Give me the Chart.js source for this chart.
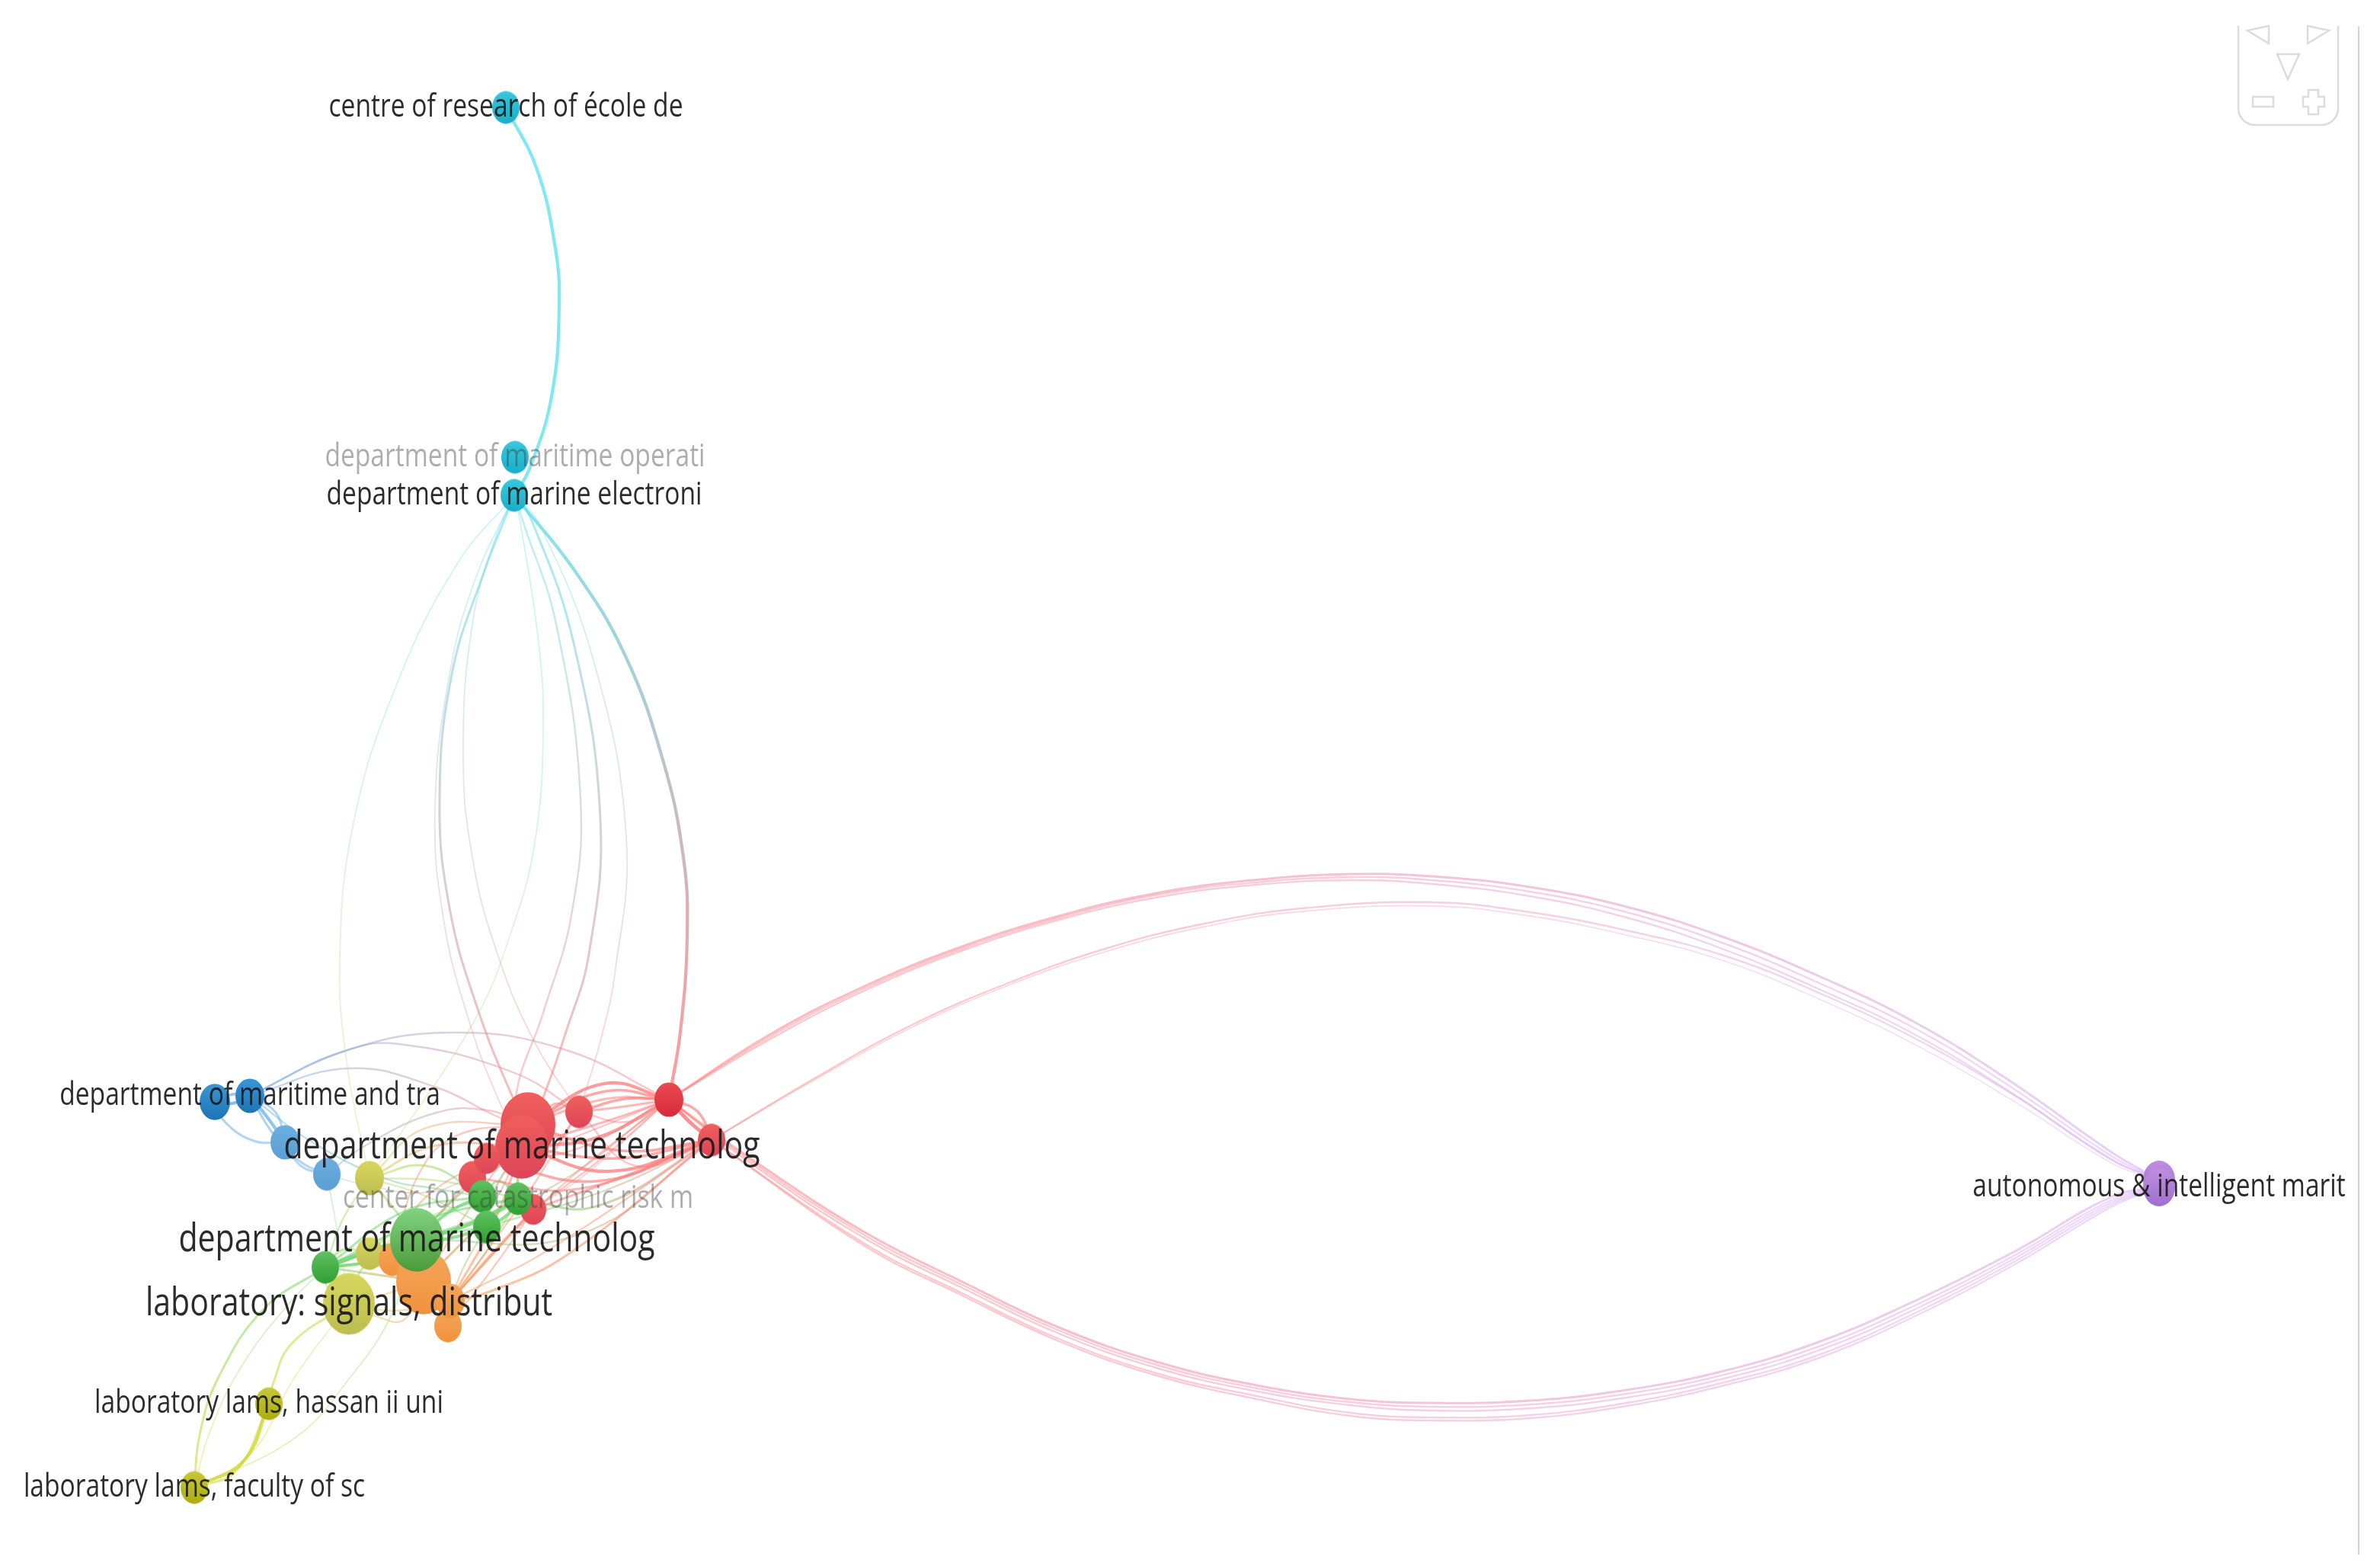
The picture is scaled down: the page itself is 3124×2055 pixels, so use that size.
<!DOCTYPE html>
<html>
<head>
<meta charset="utf-8">
<title>co-authorship map</title>
<script src="https://cdn.jsdelivr.net/npm/chart.js@4"></script>
<style>
html,body{margin:0;padding:0;background:#fff;}
#wrap{position:relative;width:3124px;height:2055px;overflow:hidden;}
#myChart{position:absolute;left:0;top:0;}
#widget{position:absolute;left:0;top:0;}
</style>
</head>
<body>
<div id="wrap">
<canvas id="myChart" width="3124" height="2055"></canvas>
<svg id="widget" width="3124" height="2055" fill="none" stroke="#dcdcdc" stroke-width="2.5">
	<path d="M2938 34V142a22 22 0 0 0 22 22H3047a22 22 0 0 0 22-22V34"/>
	<path d="M2978 34L2950 40L2978 57Z"/>
	<path d="M3029 34L3057 40L3029 57Z"/>
	<path d="M2989 71H3018L3003 104Z"/>
	<rect x="2957" y="127" width="27" height="13"/>
	<path d="M3030 118H3043V127H3051V140H3043V150H3030V140H3023V127H3030Z"/>
	<path d="M3096 34V2040" stroke="#c8d6e4" stroke-width="2"/>
</svg>
</div>
<script>
// nodes : map coordinates
var nodeIds = ['c0','c1','c2','b0','b1','b2','b3','p0','p1','y0','y1','y2','y3','y4','o0','o1','o3','o2','r0','r1','r2','r3','r4','r6','r5','r7','g1','g0','g2','g3','g4'];
var nodeX = [664,676,675,282,328,374,429,2834,2834,485,485,458,353,255,515,556,588,591,693,685,760,878,934,620,639,700,427,547,633,680,639];
var nodeY = [141,600,650,1446,1438,1499,1541,1548,1558,1546,1645,1711,1842,1952,1653,1682,1740,1707,1476,1505,1459,1443,1496,1545,1520,1587,1663,1627,1570,1573,1610];
var nodeWeight = [18,18,18,20,19,19,18,21,21,19,18,34,18,18,18,36,18,19,36,35,18,19,18,18,17,17,18,35,18,18,18];
var nodeCluster = ['cyan','cyan','cyan','blue','blue','sky','sky','purple','purple','olive','olive','olive','mustard','mustard','orange','orange','orange','orange','red','red','red','crimson','red','red','red','red','green','lime','green','green','green'];

// labels
var labelNode = ['c0','c1','c2','b1','r1','g3','g0','y2','y3','y4','p1'];
var labelText = ['centre of research of école de','department of maritime operati','department of marine electroni','department of maritime and tra','department of marine technolog','center for catastrophic risk m','department of marine technolog','laboratory: signals, distribut','laboratory lams, hassan ii uni','laboratory lams, faculty of sc','autonomous & intelligent marit'];
var labelSize = [42.5,42.5,42.5,42.5,52,42.5,52,52,42.5,42.5,42.5];
var labelDim = [0,1,0,0,0,1,0,0,0,0,0];

// links : from, to, strength, points the curve passes through
var cyanLinks = [
	['c0','c2',5,[[704,220],[728,320],[734,400],[724,520],[695,615]]],
	['c2','y0',1,[[600,740],[520,900],[464,1080],[446,1260],[456,1400]]],
	['c2','r1',1,[[625,757],[590,885],[571,1063],[583,1211],[617,1344],[653,1440]]],
	['c2','r0',3,[[633,757],[593,885],[577,1048],[590,1191],[627,1324],[673,1440]]],
	['c2','r2',1,[[650,706],[620,819],[608,987],[620,1125],[653,1252],[703,1370]]],
	['c2','y0',1,[[683,686],[707,844],[713,956],[703,1099],[673,1217],[620,1344]]],
	['c2','r0',2,[[687,686],[730,819],[762,1048],[750,1201],[713,1329],[677,1440]]],
	['c2','r1',3,[[697,681],[753,844],[788,1074],[773,1252],[743,1354],[713,1440]]],
	['c2','r2',1,[[707,686],[780,870],[822,1099],[807,1278],[787,1370]]],
	['c2','r3',5,[[753,747],[820,859],[870,997],[897,1125],[902,1227],[893,1354]]]
];
var blueLinks = [
	['b1','r3',2,[[450,1380],[590,1355],[740,1377]]],
	['b1','r2',2,[[450,1380],[523,1370],[673,1407]]],
	['b1','r0',2,[[457,1402],[573,1427],[657,1467]]],
	['b3','r0',2,[[480,1503],[573,1460],[640,1457]]],
	['b0','b1',5,[[305,1448]]],
	['b0','b1',4,[[305,1436]]],
	['b1','b2',5,[[350,1465]]],
	['b1','b2',3,[[362,1460]]],
	['b0','b2',3,[[295,1472],[333,1497]]],
	['b1','b3',3,[[360,1490],[395,1525]]],
	['b2','b3',3,[[395,1530]]],
	['b1','g2',2,[[407,1497],[507,1547],[573,1560]]],
	['b3','y2',1,[[440,1600],[450,1660]]],
	['b3','r6',1,[[480,1555],[560,1565]]]
];
var redLinks = [
	['r3','r0',5,[[793,1422]]],
	['r3','r0',4,[[795,1432]]],
	['r3','r0',3,[[795,1442]]],
	['r3','r2',4,[[820,1442]]],
	['r3','r2',3,[[820,1452]]],
	['r3','r1',5,[[783,1493]]],
	['r3','r1',3,[[800,1470]]],
	['r3','r2',2,[[825,1472]]],
	['r3','r7',2,[[790,1520]]],
	['r3','r6',2,[[760,1490]]],
	['r3','r5',2,[[750,1510]]],
	['r3','r7',1,[[770,1540]]],
	['r3','r4',6,[[905,1472]]],
	['r3','r4',4,[[915,1458]]],
	['r4','r1',5,[[800,1537]]],
	['r4','r1',4,[[810,1520]]],
	['r4','r0',4,[[815,1510]]],
	['r4','r5',4,[[783,1550]]],
	['r4','r6',3,[[760,1560]]],
	['r4','r7',3,[[815,1545]]],
	['r4','r2',2,[[835,1530]]],
	['r2','r1',3,[[725,1450]]],
	['r2','r5',2,[[710,1520]]],
	['r5','r6',4,[[630,1535]]]
];
var purpleLinks = [
	['r3','p0',3,[[1008,1359],[1135,1294],[1263,1242],[1390,1202],[1518,1172],[1645,1155],[1773,1147],[1880,1150],[2008,1164],[2135,1190],[2263,1230],[2390,1282],[2518,1344],[2645,1423],[2773,1513]]],
	['r3','p0',2,[[1010,1361],[1137,1296],[1265,1244],[1392,1204],[1520,1174],[1647,1158],[1775,1151],[1880,1155],[2008,1170],[2135,1197],[2263,1238],[2390,1291],[2518,1352],[2645,1430],[2773,1518]]],
	['r3','p0',2,[[1012,1363],[1139,1298],[1267,1246],[1394,1206],[1522,1177],[1649,1161],[1777,1155],[1880,1160],[2008,1176],[2135,1204],[2263,1246],[2390,1299],[2518,1360],[2645,1437],[2773,1523]]],
	['r4','p0',2,[[1071,1414],[1199,1344],[1326,1289],[1454,1244],[1581,1212],[1709,1192],[1880,1184],[2008,1197],[2135,1221],[2263,1254],[2390,1304],[2518,1365],[2645,1438],[2773,1522]]],
	['r4','p0',1,[[1071,1416],[1199,1347],[1326,1292],[1454,1248],[1581,1216],[1709,1196],[1880,1189],[2008,1202],[2135,1227],[2263,1261],[2390,1312],[2518,1373],[2645,1446],[2773,1527]]],
	['r3','p1',3,[[982,1518],[1135,1617],[1263,1682],[1390,1742],[1518,1787],[1645,1817],[1773,1836],[1880,1841],[2008,1838],[2135,1824],[2263,1799],[2390,1760],[2518,1705],[2645,1642],[2773,1570]]],
	['r3','p1',2,[[982,1521],[1135,1621],[1263,1686],[1390,1746],[1518,1791],[1645,1821],[1773,1840],[1880,1846],[2008,1843],[2135,1829],[2263,1804],[2390,1766],[2518,1711],[2645,1647],[2773,1574]]],
	['r3','p1',2,[[982,1524],[1135,1625],[1263,1690],[1390,1750],[1518,1795],[1645,1825],[1773,1844],[1880,1851],[2008,1848],[2135,1834],[2263,1809],[2390,1771],[2518,1716],[2645,1651],[2773,1577]]],
	['r4','p1',2,[[1135,1632],[1263,1697],[1390,1757],[1518,1802],[1645,1831],[1773,1854],[1880,1860],[2008,1857],[2135,1841],[2263,1814],[2390,1777],[2518,1721],[2645,1655],[2773,1580]]],
	['r4','p1',2,[[1135,1635],[1263,1700],[1390,1760],[1518,1805],[1645,1835],[1773,1858],[1880,1864],[2008,1861],[2135,1845],[2263,1818],[2390,1781],[2518,1725],[2645,1659],[2773,1583]]]
];
var lowerLinks = [
	['y4','g1',3,[[262,1883],[287,1807],[347,1717]]],
	['y4','g1',1,[[275,1880],[317,1793],[380,1710]]],
	['y3','y2',3,[[358,1817],[383,1763]]],
	['y4','y3',5,[[320,1917]]],
	['y4','y3',3,[[310,1930]]],
	['y4','y2',1,[[330,1907],[385,1810]]],
	['y4','g0',1,[[387,1887],[460,1807],[513,1727]]]
];
var centerLinks = [
	['g1','g0',8,[[490,1640]]],
	['g1','g0',5,[[485,1655]]],
	['g1','g2',3,[[530,1590]]],
	['g1','g3',3,[[560,1600]]],
	['g1','g4',3,[[530,1630]]],
	['g1','o1',3,[[490,1672]]],
	['g1','o1',2,[[490,1660]]],
	['g0','g2',5,[[590,1590]]],
	['g0','g3',6,[[620,1605]]],
	['g0','g4',5,[[590,1625]]],
	['g4','g3',5,[[665,1595]]],
	['g2','g3',3,[[655,1550]]],
	['g3','r4',3,[[783,1583]]],
	['g4','r4',2,[[800,1560]]],
	['g0','r3',2,[[720,1560]]],
	['g0','r4',2,[[760,1620]]],
	['g4','r1',3,[[650,1560]]],
	['g3','r1',4,[[680,1540]]],
	['g2','r5',4,[[625,1545]]],
	['g0','r1',3,[[600,1570]]],
	['y0','r1',3,[[573,1503]]],
	['y0','r0',2,[[560,1480]]],
	['y0','g2',3,[[560,1530]]],
	['y0','g3',2,[[580,1550]]],
	['y0','g4',2,[[560,1570]]],
	['y0','g0',3,[[520,1590]]],
	['y0','g1',2,[[450,1600]]],
	['y1','g1',3,[[450,1640]]],
	['y1','g0',3,[[515,1620]]],
	['y1','g3',2,[[580,1590]]],
	['y2','o1',2,[[493,1727],[530,1732]]],
	['y2','o1',2,[[500,1700]]],
	['y2','o2',2,[[520,1720]]],
	['y2','g1',2,[[430,1690]]],
	['y2','g0',3,[[480,1660]]],
	['o1','r0',2,[[620,1580]]],
	['o1','r1',2,[[640,1590]]],
	['o2','r1',3,[[650,1600]]],
	['o2','r7',3,[[650,1640]]],
	['o2','r3',2,[[725,1567]]],
	['o2','r4',3,[[637,1697],[744,1647]]],
	['o2','r4',2,[[720,1640]]],
	['o2','r2',2,[[690,1570]]],
	['o2','r7',2,[[670,1620]]],
	['o0','r1',2,[[560,1570]]],
	['o0','r0',2,[[550,1540],[600,1490]]],
	['o0','r6',2,[[570,1600]]],
	['o1','g3',2,[[630,1610]]],
	['o2','g4',2,[[610,1660]]],
	['o2','g3',2,[[640,1640]]],
	['o3','r7',2,[[650,1660]]]
];

// colours per cluster
var clusterTop = {cyan:'#3ac8dc',blue:'#3b97d6',sky:'#6cb0e0',purple:'#c08ee0',olive:'#d8d860',mustard:'#c9c93a',orange:'#f5a65c',red:'#f0605c',crimson:'#e84c50',green:'#62c262',lime:'#82d482'};
var clusterBottom = {cyan:'#18aec8',blue:'#1b74b4',sky:'#5a9ed2',purple:'#9f6fcf',olive:'#bcbc50',mustard:'#abab10',orange:'#f0923c',red:'#dd4458',crimson:'#d8283c',green:'#2ea030',lime:'#4a9a38'};
var linkColor = {cyan:[90,225,240],blue:[100,170,235],sky:[120,185,235],purple:[215,170,245],olive:[205,215,90],mustard:[205,215,40],orange:[250,150,80],red:[252,125,125],crimson:[252,125,125],green:[110,215,110],lime:[110,215,110]};

function nodeIndex(id) { return nodeIds.indexOf(id); }

// a little shaded ellipse for each node, chart.js draws it as the point image
function makeSprite(i) {
	var rx = nodeWeight[i], ry = nodeWeight[i] * 1.19;
	var c = document.createElement('canvas');
	c.width = Math.ceil(rx * 2 + 2);
	c.height = Math.ceil(ry * 2 + 2);
	var g = c.getContext('2d');
	var grad = g.createLinearGradient(0, 0, 0, c.height);
	grad.addColorStop(0, clusterTop[nodeCluster[i]]);
	grad.addColorStop(1, clusterBottom[nodeCluster[i]]);
	g.fillStyle = grad;
	g.beginPath();
	g.ellipse(c.width / 2, c.height / 2, rx, ry, 0, 0, Math.PI * 2);
	g.fill();
	return c;
}
var sprites = nodeIds.map(function(id, i) { return makeSprite(i); });

function rgba(c, a) { return 'rgba(' + c[0] + ',' + c[1] + ',' + c[2] + ',' + a + ')'; }

function linkDataset(row) {
	var a = nodeIndex(row[0]), b = nodeIndex(row[1]), strength = row[2];
	var pts = [{x: nodeX[a], y: nodeY[a]}];
	row[3].forEach(function(p) { pts.push({x: p[0], y: p[1]}); });
	pts.push({x: nodeX[b], y: nodeY[b]});
	var alpha = Math.min(0.85, 0.22 + strength * 0.11);
	return {
		type: 'line',
		data: pts,
		order: 2,
		pointRadius: 0,
		tension: 0.42,
		fill: false,
		borderWidth: 1.2 + strength * 0.6,
		borderColor: function(ctx) {
			var chart = ctx.chart;
			if (!chart.chartArea) return rgba(linkColor[nodeCluster[a]], alpha);
			var sx = chart.scales.x, sy = chart.scales.y;
			var grad = chart.ctx.createLinearGradient(sx.getPixelForValue(nodeX[a]), sy.getPixelForValue(nodeY[a]), sx.getPixelForValue(nodeX[b]), sy.getPixelForValue(nodeY[b]));
			grad.addColorStop(0, rgba(linkColor[nodeCluster[a]], alpha));
			grad.addColorStop(1, rgba(linkColor[nodeCluster[b]], alpha));
			return grad;
		}
	};
}

var allLinks = cyanLinks.concat(blueLinks, redLinks, purpleLinks, lowerLinks, centerLinks);
var datasets = allLinks.map(linkDataset);

datasets.push({
	type: 'scatter',
	order: 1,
	data: nodeIds.map(function(id, i) { return {x: nodeX[i], y: nodeY[i]}; }),
	pointRadius: function(ctx) { return nodeWeight[ctx.dataIndex]; },
	pointHoverRadius: function(ctx) { return nodeWeight[ctx.dataIndex]; },
	pointStyle: function(ctx) { return sprites[ctx.dataIndex]; }
});

// node labels, squeezed sideways like the original
var labelPlugin = {
	id: 'nodeLabels',
	afterDatasetsDraw: function(chart) {
		var ctx = chart.ctx, sx = chart.scales.x, sy = chart.scales.y;
		labelText.forEach(function(text, k) {
			var i = nodeIndex(labelNode[k]);
			ctx.save();
			ctx.translate(sx.getPixelForValue(nodeX[i]), sy.getPixelForValue(nodeY[i]));
			ctx.scale(0.79, 1);
			ctx.font = labelSize[k] + 'px "Open Sans"';
			ctx.textAlign = 'center';
			ctx.textBaseline = 'middle';
			ctx.fillStyle = labelDim[k] ? 'rgba(60,60,60,0.42)' : 'rgba(25,25,25,0.92)';
			ctx.fillText(text, 0, 0);
			ctx.restore();
		});
	}
};

var mychart = new Chart(document.getElementById('myChart'), {
	type: 'line',
	data: {datasets: datasets},
	plugins: [labelPlugin],
	options: {
		responsive: false,
		animation: false,
		devicePixelRatio: 1,
		layout: {padding: 0, autoPadding: false},
		plugins: {legend: {display: false}, tooltip: {enabled: false}, title: {display: false}},
		scales: {
			x: {type: 'linear', display: false, min: 0, max: 3124},
			y: {type: 'linear', display: false, min: 0, max: 2055, reverse: true}
		}
	}
});
</script>
</body>
</html>
